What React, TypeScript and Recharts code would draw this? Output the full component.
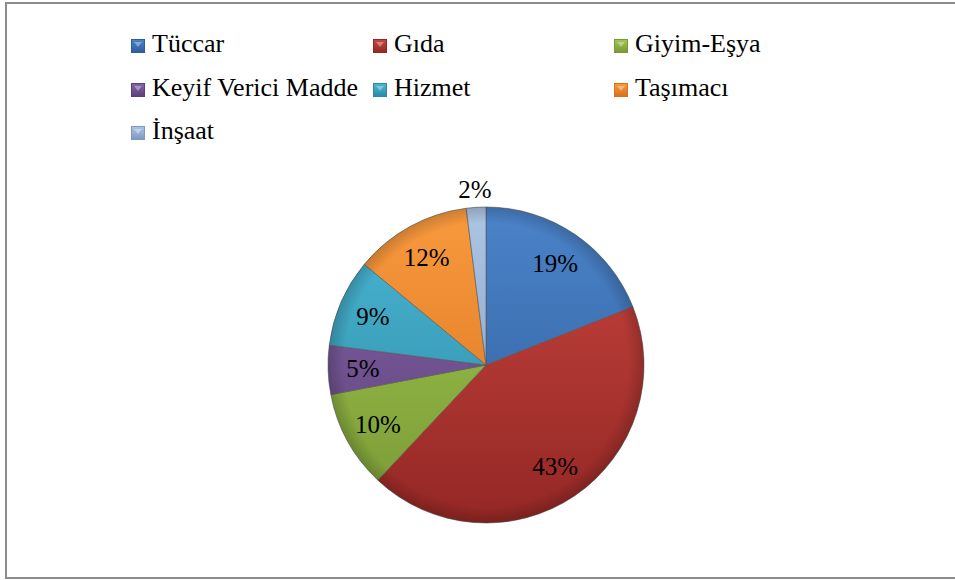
import { Cell, Pie, PieChart } from 'recharts'

const categories = ['Tüccar', 'Gıda', 'Giyim-Eşya', 'Keyif Verici Madde', 'Hizmet', 'Taşımacı', 'İnşaat']
const shares = [19, 43, 10, 5, 9, 12, 2]
const lightColors = ['#4b83c9', '#c9453f', '#a2c74f', '#8465a8', '#4ab7d4', '#f99a3e', '#adc5e3']
const darkColors = ['#2d5d9a', '#932724', '#789935', '#5c3f78', '#2c88a3', '#d6711e', '#7d99c2']

const data = categories.map((name, i) => ({ name, value: shares[i] }))

const FONT = `'Liberation Serif'`
const RAD = Math.PI / 180

// percent labels sit inside the slice, tiny slices get pushed outside
function SliceLabel(props: any) {
  const { cx, cy, midAngle, outerRadius, percent } = props
  const r = percent < 0.03 ? outerRadius * 1.11 : outerRadius * 0.78
  const x = cx + r * Math.cos(-midAngle * RAD)
  const y = cy + r * Math.sin(-midAngle * RAD)
  return (
    <text x={x} y={y} textAnchor="middle" dominantBaseline="central" fontFamily="Liberation Serif" fontSize={25} fill="#000">
      {Math.round(percent * 100)}%
    </text>
  )
}

function LegendBox() {
  return (
    <div style={{ position: 'absolute', left: 131, top: 22, width: 724 }}>
      {categories.map((name, i) => (
        <div
          key={name}
          style={{
            display: 'inline-block',
            width: i % 3 === 0 ? 242 : 241,
            height: 43.5,
            lineHeight: '43.5px',
            whiteSpace: 'nowrap',
            verticalAlign: 'top',
          }}
        >
          <svg width={14} height={14} style={{ marginRight: 7, verticalAlign: -1 }}>
            <defs>
              <linearGradient id={`lg${i}`} x1="0" y1="0" x2="0" y2="1">
                <stop offset="0%" stopColor={lightColors[i]} />
                <stop offset="100%" stopColor={darkColors[i]} />
              </linearGradient>
            </defs>
            <rect x={0.5} y={0.5} width={13} height={13} fill={`url(#lg${i})`} stroke={darkColors[i]} />
            <path d="M3 3 L11 3 L7 8 Z" fill="#ffffff" opacity={0.35} />
          </svg>
          <span style={{ fontFamily: FONT, fontSize: 26, color: '#000' }}>{name}</span>
        </div>
      ))}
    </div>
  )
}

export default function App() {
  return (
    <div style={{ position: 'relative', width: 955, height: 580 }}>
      <style>{`body{margin:0}`}</style>
      <div
        style={{
          position: 'absolute',
          left: 5,
          top: 2,
          width: 960,
          height: 577,
          borderLeft: '2px solid #8c8c8c',
          borderTop: '2px solid #8c8c8c',
          borderBottom: '2px solid #8c8c8c',
          boxSizing: 'border-box',
        }}
      />
      <PieChart width={955} height={580} margin={{ top: 0, right: 0, bottom: 0, left: 0 }} style={{ position: 'absolute', left: 0, top: 0 }}>
        <defs>
          {categories.map((name, i) => (
            <linearGradient key={name} id={`pg${i}`} gradientUnits="userSpaceOnUse" x1="0" y1="207" x2="0" y2="523">
              <stop offset="0%" stopColor={lightColors[i]} />
              <stop offset="100%" stopColor={darkColors[i]} />
            </linearGradient>
          ))}
          <radialGradient id="rim" gradientUnits="userSpaceOnUse" cx={486} cy={365} r={158}>
            <stop offset="0%" stopColor="#000" stopOpacity={0} />
            <stop offset="90%" stopColor="#000" stopOpacity={0} />
            <stop offset="100%" stopColor="#000" stopOpacity={0.18} />
          </radialGradient>
        </defs>
        <Pie
          data={data}
          dataKey="value"
          nameKey="name"
          cx={486}
          cy={365}
          outerRadius={158}
          startAngle={90}
          endAngle={-270}
          label={SliceLabel}
          labelLine={false}
          stroke="#555"
          strokeWidth={0.6}
          isAnimationActive={false}
        >
          {data.map((d, i) => (
            <Cell key={d.name} fill={`url(#pg${i})`} />
          ))}
        </Pie>
        {/* darker rim on top of the slices, a rough stand-in for the bevel */}
        <Pie
          data={data}
          dataKey="value"
          cx={486}
          cy={365}
          outerRadius={158}
          startAngle={90}
          endAngle={-270}
          fill="url(#rim)"
          stroke="none"
          isAnimationActive={false}
        />
      </PieChart>
      <LegendBox />
    </div>
  )
}
